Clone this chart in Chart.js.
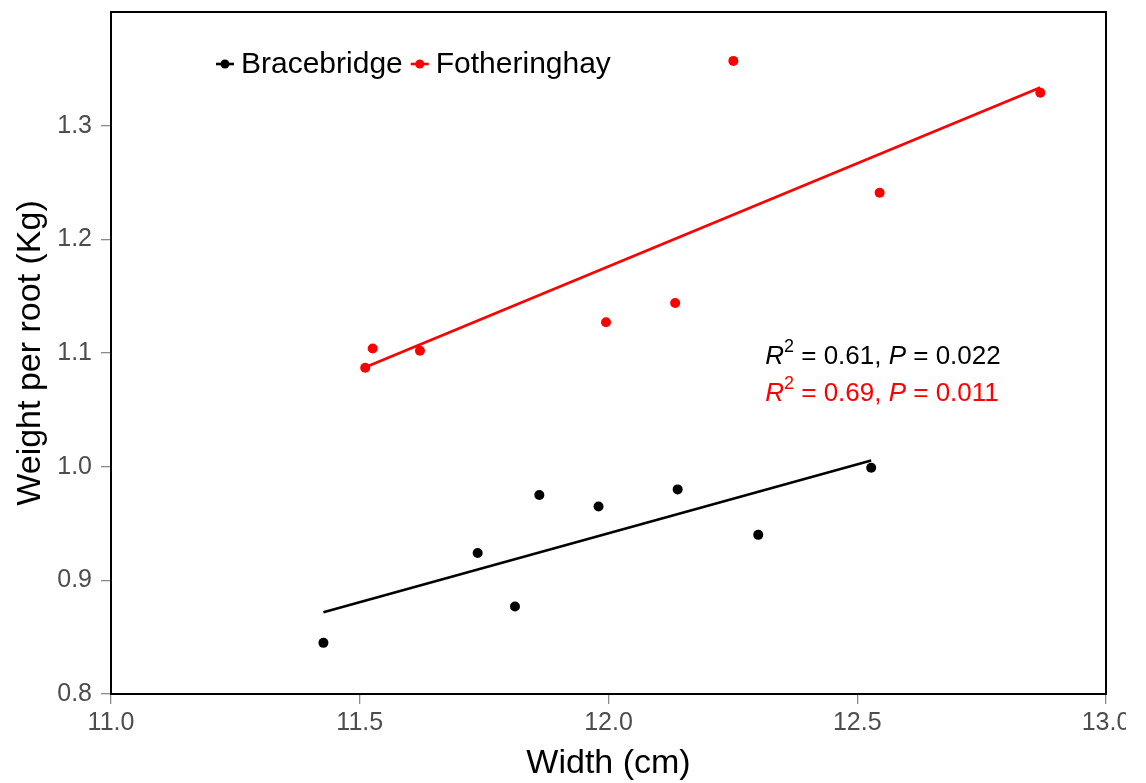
<!DOCTYPE html>
<html>
<head>
<meta charset="utf-8">
<script src="https://cdn.jsdelivr.net/npm/chart.js@4"></script>
<style>
  html, body { margin: 0; padding: 0; background: #fff; }
  #wrap { width: 1126px; height: 783px; overflow: hidden; }
</style>
</head>
<body>
<div id="wrap"><canvas id="chart" width="1146" height="783"></canvas></div>
<script>
"use strict"

const sites = ['Bracebridge', 'Fotheringhay'];
const siteColors = ['#000000', '#ff0000'];

// root width (cm) and weight per root (kg), one pair of arrays per site
const widthBracebridge = [11.427, 11.737, 11.812, 11.861, 11.980, 12.139, 12.301, 12.528];
const weightBracebridge = [0.845, 0.924, 0.877, 0.975, 0.965, 0.980, 0.940, 0.999];
const widthFotheringhay = [11.511, 11.526, 11.621, 11.995, 12.134, 12.251, 12.545, 12.868];
const weightFotheringhay = [1.087, 1.104, 1.102, 1.127, 1.144, 1.357, 1.241, 1.329];

const r2Values = ['0.61', '0.69'];
const pValues = ['0.022', '0.011'];

const xTicks = [11.0, 11.5, 12.0, 12.5, 13.0];
const yTicks = [0.8, 0.9, 1.0, 1.1, 1.2, 1.3];

const FONT = 'Liberation Sans, Arial, sans-serif';

function toPoints(xs, ys) {
    return xs.map((x, i) => ({ x: x, y: ys[i] }));
};

// least squares line, drawn across the range of the data
function fitLine(xs, ys) {
    const n = xs.length;
    const mx = xs.reduce((a, b) => a + b, 0) / n;
    const my = ys.reduce((a, b) => a + b, 0) / n;
    let sxy = 0, sxx = 0;
    for (let i = 0; i < n; i++) {
        sxy += (xs[i] - mx) * (ys[i] - my);
        sxx += (xs[i] - mx) * (xs[i] - mx);
    }
    const slope = sxy / sxx;
    const x0 = Math.min(...xs), x1 = Math.max(...xs);
    return [
        { x: x0, y: my + slope * (x0 - mx) },
        { x: x1, y: my + slope * (x1 - mx) }
    ];
};

const series = [
    { xs: widthBracebridge, ys: weightBracebridge },
    { xs: widthFotheringhay, ys: weightFotheringhay }
];

const datasets = [];
series.forEach((s, i) => {
    datasets.push({
        label: sites[i] + ' fit',
        data: fitLine(s.xs, s.ys),
        showLine: true,
        borderColor: siteColors[i],
        borderWidth: 2.6,
        pointRadius: 0,
        order: 2
    });
    datasets.push({
        label: sites[i],
        data: toPoints(s.xs, s.ys),
        backgroundColor: siteColors[i],
        borderColor: siteColors[i],
        pointRadius: 5,
        borderWidth: 0,
        order: 1
    });
});

// frame, legend and the R² / P labels
const decorations = {
    id: 'decorations',
    afterDraw(chart) {
        const ctx = chart.ctx;
        const area = chart.chartArea;
        ctx.save();

        ctx.strokeStyle = '#000';
        ctx.lineWidth = 2;
        ctx.strokeRect(area.left, area.top, area.right - area.left, area.bottom - area.top);

        // legend
        ctx.font = '30px ' + FONT;
        ctx.textBaseline = 'middle';
        ctx.textAlign = 'left';
        let lx = area.left + 105;
        const ly = area.top + 52;
        sites.forEach((name, i) => {
            ctx.strokeStyle = siteColors[i];
            ctx.fillStyle = siteColors[i];
            ctx.lineWidth = 2.6;
            ctx.beginPath();
            ctx.moveTo(lx, ly);
            ctx.lineTo(lx + 18, ly);
            ctx.stroke();
            ctx.beginPath();
            ctx.arc(lx + 9, ly, 4.5, 0, Math.PI * 2);
            ctx.fill();
            ctx.fillStyle = '#000';
            ctx.fillText(name, lx + 25, ly + 1);
            lx += 25 + ctx.measureText(name).width + 8;
        });

        // statistics
        const sx = chart.scales.x.getPixelForValue(12.315);
        let sy = chart.scales.y.getPixelForValue(1.097);
        r2Values.forEach((r2, i) => {
            ctx.fillStyle = siteColors[i];
            const parts = [
                { t: 'R', f: 'italic 26px ' + FONT, dy: 0 },
                { t: '2', f: '18px ' + FONT, dy: -9 },
                { t: ' = ' + r2 + ', ', f: '26px ' + FONT, dy: 0 },
                { t: 'P', f: 'italic 26px ' + FONT, dy: 0 },
                { t: ' = ' + pValues[i], f: '26px ' + FONT, dy: 0 }
            ];
            let x = sx;
            parts.forEach(p => {
                ctx.font = p.f;
                ctx.fillText(p.t, x, sy + p.dy);
                x += ctx.measureText(p.t).width;
            });
            sy += 37;
        });

        ctx.restore();
    }
};

new Chart(document.getElementById('chart'), {
    type: 'scatter',
    data: { datasets: datasets },
    options: {
        responsive: false,
        animation: false,
        layout: { padding: { top: 12, right: 40, left: 0, bottom: 0 } },
        plugins: {
            legend: { display: false },
            tooltip: { enabled: false }
        },
        scales: {
            x: {
                type: 'linear',
                min: 11,
                max: 13,
                afterBuildTicks(scale) { scale.ticks = xTicks.map(v => ({ value: v })); },
                afterFit(scale) {
                    scale.height = 89;
                    scale.paddingLeft = 0;
                    scale.paddingRight = 0;
                },
                border: { display: false },
                grid: { drawOnChartArea: false, drawTicks: true, tickLength: 10, color: '#8a8a8a', lineWidth: 1.3 },
                ticks: {
                    padding: 4,
                    color: '#4d4d4d',
                    font: { family: FONT, size: 25 },
                    maxRotation: 0,
                    callback: v => v.toFixed(1)
                },
                title: {
                    display: true,
                    text: 'Width (cm)',
                    color: '#000',
                    font: { family: FONT, size: 34, lineHeight: 1 },
                    padding: { top: 0, bottom: 2 }
                }
            },
            y: {
                type: 'linear',
                min: 0.8,
                max: 1.4,
                afterBuildTicks(scale) { scale.ticks = yTicks.map(v => ({ value: v })); },
                afterFit(scale) {
                    scale.width = 111;
                    scale.paddingTop = 0;
                    scale.paddingBottom = 0;
                },
                border: { display: false },
                grid: { drawOnChartArea: false, drawTicks: true, tickLength: 10, color: '#8a8a8a', lineWidth: 1.3 },
                ticks: {
                    padding: 9,
                    color: '#4d4d4d',
                    font: { family: FONT, size: 25 },
                    callback: v => v.toFixed(1)
                },
                title: {
                    display: true,
                    text: 'Weight per root (Kg)',
                    color: '#000',
                    font: { family: FONT, size: 34, lineHeight: 1 },
                    padding: { top: 14, bottom: 0 }
                }
            }
        }
    },
    plugins: [decorations]
});
</script>
</body>
</html>
